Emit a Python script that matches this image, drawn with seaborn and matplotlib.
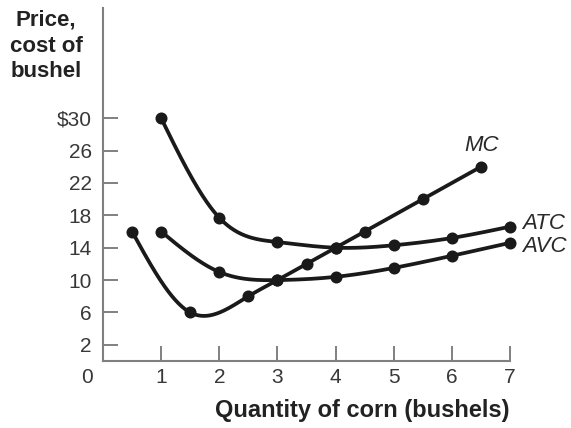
import matplotlib
matplotlib.use("Agg")
import matplotlib.pyplot as plt
import numpy as np
import pandas as pd
import seaborn as sns

# valores
MC_X = [0.5, 1.5, 2.5, 3, 3.5, 4, 4.5, 5.5, 6.5]
MC_Y = [16, 6, 8, 10, 12, 14, 16, 20, 24]
ATC_X = [1, 2, 3, 4, 5, 6, 7]
ATC_Y = [30, 17.7, 14.7, 14.0, 14.3, 15.2, 16.6]
AVC_X = [1, 2, 3, 4, 5, 6, 7]
AVC_Y = [16, 11, 10, 10.4, 11.5, 13, 14.6]

Y_TICKS = [2, 6, 10, 14, 18, 22, 26, 30]
Y_LABELS = ["2", "6", "10", "14", "18", "22", "26", "$30"]
X_TICKS = [1, 2, 3, 4, 5, 6, 7]

TINTA = "#1a1a1a"
EIXO = "#808080"


def suavizar(x, y, n=300):
    # spline cubica natural so para desenhar a curva entre os pontos
    x = np.asarray(x, float)
    y = np.asarray(y, float)
    k = len(x)
    h = np.diff(x)
    A = np.zeros((k, k))
    b = np.zeros(k)
    A[0, 0] = A[-1, -1] = 1
    for i in range(1, k - 1):
        A[i, i - 1] = h[i - 1]
        A[i, i] = 2 * (h[i - 1] + h[i])
        A[i, i + 1] = h[i]
        b[i] = 6 * ((y[i + 1] - y[i]) / h[i] - (y[i] - y[i - 1]) / h[i - 1])
    M = np.linalg.solve(A, b)
    xs = np.linspace(x[0], x[-1], n)
    j = np.clip(np.searchsorted(x, xs) - 1, 0, k - 2)
    t1 = x[j + 1] - xs
    t0 = xs - x[j]
    ys = (M[j] * t1 ** 3 + M[j + 1] * t0 ** 3) / (6 * h[j]) \
        + (y[j] / h[j] - M[j] * h[j] / 6) * t1 \
        + (y[j + 1] / h[j] - M[j + 1] * h[j] / 6) * t0
    return xs, ys


sns.set_style("ticks")
plt.rcParams["font.family"] = ["Liberation Sans", "DejaVu Sans"]

fig = plt.figure(figsize=(5.71, 4.28), dpi=100)
ax = fig.add_axes([0.1804, 0.1565, 0.7128, 0.8245])

curvas = {"MC": (MC_X, MC_Y), "ATC": (ATC_X, ATC_Y), "AVC": (AVC_X, AVC_Y)}
for nome, (xx, yy) in curvas.items():
    xs, ys = suavizar(xx, yy)
    sns.lineplot(x=xs, y=ys, ax=ax, color=TINTA, linewidth=2.7, sort=False)
    sns.scatterplot(x=xx, y=yy, ax=ax, color=TINTA, s=75, edgecolor=TINTA,
                    linewidth=0, zorder=3, clip_on=False)

ax.set_xlim(0, 7)
ax.set_ylim(0, 43.6)
ax.set_yticks(Y_TICKS)
ax.set_yticklabels(Y_LABELS)
ax.set_xticks(X_TICKS)
ax.tick_params(direction="in", length=11, width=1.4, color=EIXO,
               labelsize=15, labelcolor="#383838")
ax.tick_params(axis="y", pad=8)
ax.tick_params(axis="x", pad=5)

for lado in ["top", "right"]:
    ax.spines[lado].set_visible(False)
for lado in ["left", "bottom"]:
    ax.spines[lado].set_color(EIXO)
    ax.spines[lado].set_linewidth(1.5)

# origem
ax.text(-0.275, -2.0, "0", ha="center", va="center", fontsize=15, color="#383838",
        clip_on=False)

ax.text(6.51, 26.6, "MC", ha="center", va="center", fontsize=16, style="italic", color="#2a2a2a")
ax.text(7.2, 17.0, "ATC", ha="left", va="center", fontsize=16, style="italic", color="#2a2a2a",
        clip_on=False)
ax.text(7.2, 14.2, "AVC", ha="left", va="center", fontsize=16, style="italic", color="#2a2a2a",
        clip_on=False)

fig.text(46 / 571, 1 - 46 / 428, "Price,\ncost of\nbushel", ha="center", va="center",
         fontsize=16, fontweight="bold", color="#222222", linespacing=1.3)
fig.text(362 / 571, 1 - 411 / 428, "Quantity of corn (bushels)", ha="center", va="center",
         fontsize=17, fontweight="bold", color="#222222")

fig.savefig("out.png", dpi=100)
